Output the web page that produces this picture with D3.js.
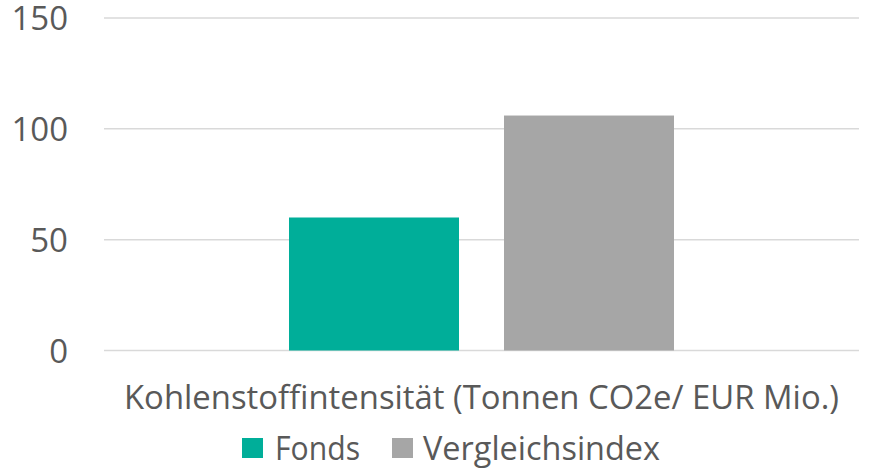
<!DOCTYPE html>
<html>
<head>
<meta charset="utf-8">
<script src="https://cdn.jsdelivr.net/npm/d3@7"></script>
<style>
  html, body { margin: 0; padding: 0; background: #ffffff; }
  svg { display: block; }
  text { font-family: "Open Sans", sans-serif; fill: #595959; }
</style>
</head>
<body>
<svg id="chart" width="881" height="469"></svg>
<script>
const categories = ["Kohlenstoffintensität (Tonnen CO2e/ EUR Mio.)"];
const seriesNames = ["Fonds", "Vergleichsindex"];
const fondsValues = [60];
const indexValues = [106];
const yTicks = [0, 50, 100, 150];
const colors = ["#00AE99", "#A6A6A6"];

const seriesValues = [fondsValues, indexValues];
const svg = d3.select("#chart");

const plot = { left: 104, right: 859, top: 18, bottom: 350.5 };

const y = d3.scaleLinear().domain([0, 150]).range([plot.bottom, plot.top]);
const x0 = d3.scaleBand().domain(categories).range([plot.left, plot.right])
  .paddingInner(0).paddingOuter(0.4805);
const x1 = d3.scaleBand().domain(seriesNames).range([0, x0.bandwidth()])
  .paddingInner(0.2093).paddingOuter(0);

// gridlines
svg.append("g").selectAll("line").data(yTicks).join("line")
  .attr("x1", plot.left).attr("x2", plot.right)
  .attr("y1", d => y(d)).attr("y2", d => y(d))
  .attr("stroke", "#D9D9D9").attr("stroke-width", 1.5);

// y axis labels
const yAxis = d3.axisLeft(y).tickValues(yTicks).tickSize(0).tickPadding(0);
const ya = svg.append("g").attr("transform", `translate(68,0)`).call(yAxis);
ya.select(".domain").remove();
ya.selectAll("text").attr("font-size", 33).attr("fill", "#595959")
  .attr("font-family", "'Open Sans', sans-serif").attr("dy", "0.36em");

// bars
categories.forEach((cat, ci) => {
  seriesNames.forEach((s, si) => {
    const v = seriesValues[si][ci];
    svg.append("rect")
      .attr("x", x0(cat) + x1(s))
      .attr("y", y(v))
      .attr("width", x1.bandwidth())
      .attr("height", y(0) - y(v))
      .attr("fill", colors[si]);
  });
});

// category label
svg.append("g").selectAll("text").data(categories).join("text")
  .attr("x", d => x0(d) + x0.bandwidth() / 2)
  .attr("y", 409)
  .attr("text-anchor", "middle")
  .attr("font-size", 33)
  .attr("textLength", 715)
  .attr("lengthAdjust", "spacingAndGlyphs")
  .text(d => d);

// legend
const legendItems = [
  { name: seriesNames[0], color: colors[0], sx: 242, tx: 275, tw: 85 },
  { name: seriesNames[1], color: colors[1], sx: 392, tx: 423, tw: 237 }
];
const lg = svg.append("g");
legendItems.forEach(it => {
  lg.append("rect").attr("x", it.sx).attr("y", 438).attr("width", 21).attr("height", 20).attr("fill", it.color);
  lg.append("text").attr("x", it.tx).attr("y", 460).attr("font-size", 33)
    .attr("textLength", it.tw).attr("lengthAdjust", "spacingAndGlyphs").text(it.name);
});
</script>
</body>
</html>
